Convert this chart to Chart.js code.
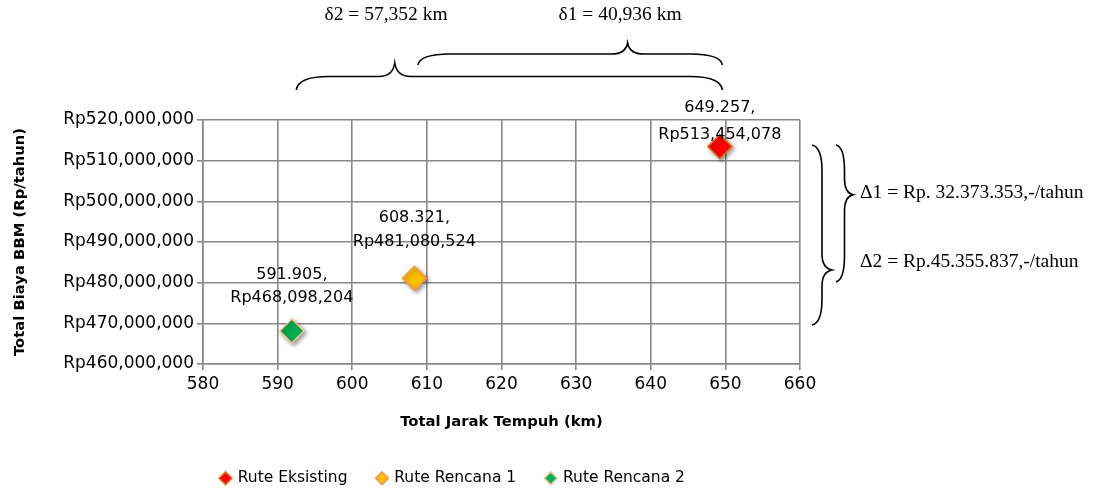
<!DOCTYPE html>
<html>
<head>
<meta charset="utf-8">
<script src="https://cdn.jsdelivr.net/npm/chart.js@4"></script>
<style>
  html, body { margin: 0; padding: 0; background: #fff; }
  #wrap { width: 1097px; height: 491px; position: relative; }
</style>
</head>
<body>
<div id="wrap"><canvas id="chart"></canvas></div>
<script>
// data
const seriesNames = ['Rute Eksisting', 'Rute Rencana 1', 'Rute Rencana 2'];
const jarakKm = [649.257, 608.321, 591.905];
const biayaRp = [513454078, 481080524, 468098204];
const fillColors = ['#ff0000', '#ffc000', '#00b050'];
const borderColors = ['#e46c0a', '#f79646', '#fac090'];
const xTicks = [580, 590, 600, 610, 620, 630, 640, 650, 660];
const yTicks = [460e6, 470e6, 480e6, 490e6, 500e6, 510e6, 520e6];

// brace notes (value units)
const topNotes = [
  { text: '\u03b42 = 57,352 km', from: 592.5, to: 649.6, tip: 605.7 },
  { text: '\u03b41 = 40,936 km', from: 608.8, to: 649.6, tip: 636.9 }
];
const sideNotes = [
  { text: '\u03941 = Rp. 32.373.353,-/tahun', from: 513.85e6, to: 480.2e6, tip: 501.6e6 },
  { text: '\u03942 = Rp.45.355.837,-/tahun', from: 513.85e6, to: 469.6e6, tip: 483.1e6 }
];

const rp = v => 'Rp' + v.toLocaleString('en-US');
const sans = '"DejaVu Sans", sans-serif';
const serif = '"Liberation Serif", "Times New Roman", serif';

// label offsets above each point (first line, second line)
const labelDy = [[-39, -12], [-60, -36], [-56, -33]];

const datasets = seriesNames.map((name, i) => ({
  label: name,
  data: [{ x: jarakKm[i], y: biayaRp[i] }],
  backgroundColor: fillColors[i],
  borderColor: borderColors[i],
  borderWidth: 1.5,
  pointStyle: 'rectRot',
  pointRadius: 12,
  pointHoverRadius: 12
}));

// horizontal brace, opening downwards, tip upwards
function hBrace(ctx, x1, x2, xt, y0, depth) {
  const ym = y0 - depth * 0.5, yt = y0 - depth;
  const r = 32, rt = 16;
  ctx.beginPath();
  ctx.moveTo(x1, y0);
  ctx.quadraticCurveTo(x1 + 2, ym, x1 + r, ym);
  ctx.lineTo(xt - rt, ym);
  ctx.quadraticCurveTo(xt - 2, ym, xt, yt);
  ctx.quadraticCurveTo(xt + 2, ym, xt + rt, ym);
  ctx.lineTo(x2 - r, ym);
  ctx.quadraticCurveTo(x2 - 2, ym, x2, y0);
  ctx.stroke();
}

// vertical brace, opening left, tip to the right
function vBrace(ctx, y1, y2, yt, x0, depth) {
  const xm = x0 + depth * 0.5, xt = x0 + depth;
  const r = 26, rt = 16;
  ctx.beginPath();
  ctx.moveTo(x0, y1);
  ctx.quadraticCurveTo(xm, y1 + 2, xm, y1 + r);
  ctx.lineTo(xm, yt - rt);
  ctx.quadraticCurveTo(xm, yt - 2, xt, yt);
  ctx.quadraticCurveTo(xm, yt + 2, xm, yt + rt);
  ctx.lineTo(xm, y2 - r);
  ctx.quadraticCurveTo(xm, y2 - 2, x0, y2);
  ctx.stroke();
}

const notesPlugin = {
  id: 'notes',
  afterLayout(chart) {
    // legend sits a bit right of the plot centre in the original
    const lg = chart.legend;
    lg.left += 53; lg.right += 53;
    lg.top += 5; lg.bottom += 5;
  },
  beforeDatasetsDraw(chart) {
    const ctx = chart.ctx;
    ctx.save();
    ctx.shadowColor = 'rgba(0,0,0,0.4)';
    ctx.shadowBlur = 4;
    ctx.shadowOffsetX = 2;
    ctx.shadowOffsetY = 2;
  },
  afterDatasetsDraw(chart) {
    const ctx = chart.ctx;
    ctx.restore();
    const xs = chart.scales.x, ys = chart.scales.y;
    ctx.save();

    // data labels above each point
    ctx.fillStyle = '#000';
    ctx.font = '16px ' + sans;
    ctx.textAlign = 'center';
    ctx.textBaseline = 'middle';
    jarakKm.forEach((v, i) => {
      const px = xs.getPixelForValue(v);
      const py = ys.getPixelForValue(biayaRp[i]);
      ctx.fillText(v.toFixed(3) + ',', px, py + labelDy[i][0]);
      ctx.fillText(rp(biayaRp[i]), px, py + labelDy[i][1]);
    });

    ctx.strokeStyle = '#000';
    ctx.lineWidth = 1.6;
    ctx.font = '19.5px ' + serif;

    // top braces and texts
    const topY = [90, 65];
    const topDepth = [27, 22];
    const topTextX = [386, 620];
    topNotes.forEach((n, k) => {
      hBrace(ctx, xs.getPixelForValue(n.from), xs.getPixelForValue(n.to),
        xs.getPixelForValue(n.tip), topY[k], topDepth[k]);
      ctx.textAlign = 'center';
      ctx.fillText(n.text, topTextX[k], 15);
    });

    // right braces and texts
    const sideX = [836, 812];
    const sideDepth = [17, 20];
    sideNotes.forEach((n, k) => {
      vBrace(ctx, ys.getPixelForValue(n.from), ys.getPixelForValue(n.to),
        ys.getPixelForValue(n.tip), sideX[k], sideDepth[k]);
    });
    ctx.textAlign = 'left';
    ctx.fillText(sideNotes[0].text, 860, 193);
    ctx.fillText(sideNotes[1].text, 860, 262);
    ctx.restore();
  }
};

new Chart(document.getElementById('chart'), {
  type: 'scatter',
  data: { datasets },
  options: {
    responsive: true,
    maintainAspectRatio: false,
    animation: false,
    layout: { padding: { top: 120, right: 297, left: 0, bottom: 0 } },
    plugins: {
      tooltip: { enabled: false },
      legend: {
        position: 'bottom',
        labels: {
          usePointStyle: true,
          pointStyle: 'rectRot',
          boxWidth: 9,
          boxHeight: 9,
          padding: 30,
          color: '#000',
          font: { family: sans, size: 15.5 }
        }
      }
    },
    scales: {
      x: {
        type: 'linear',
        min: 580, max: 660,
        afterBuildTicks: s => { s.ticks = xTicks.map(v => ({ value: v })); },
        afterFit: s => { s.height = 71.5; },
        ticks: { color: '#000', font: { family: sans, size: 17 }, padding: 4 },
        grid: { color: '#888888', lineWidth: 1.6, tickLength: 6, tickColor: '#888888' },
        border: { color: '#888888', width: 1.6 },
        title: {
          display: true,
          text: 'Total Jarak Tempuh (km)',
          color: '#000',
          font: { family: sans, size: 14.8, weight: 'bold' },
          padding: { top: 0, bottom: 4 }
        }
      },
      y: {
        type: 'linear',
        min: 460e6, max: 520e6,
        afterBuildTicks: s => { s.ticks = yTicks.map(v => ({ value: v })); },
        afterFit: s => { s.width = 203; },
        ticks: { color: '#000', font: { family: sans, size: 17 }, padding: 3, callback: v => rp(v) },
        grid: { color: '#888888', lineWidth: 1.6, tickLength: 6, tickColor: '#888888' },
        border: { color: '#888888', width: 1.6 },
        title: {
          display: true,
          text: 'Total Biaya BBM (Rp/tahun)',
          color: '#000',
          font: { family: sans, size: 14.8, weight: 'bold' },
          padding: { top: 11, bottom: 0 }
        }
      }
    }
  },
  plugins: [notesPlugin]
});
</script>
</body>
</html>
